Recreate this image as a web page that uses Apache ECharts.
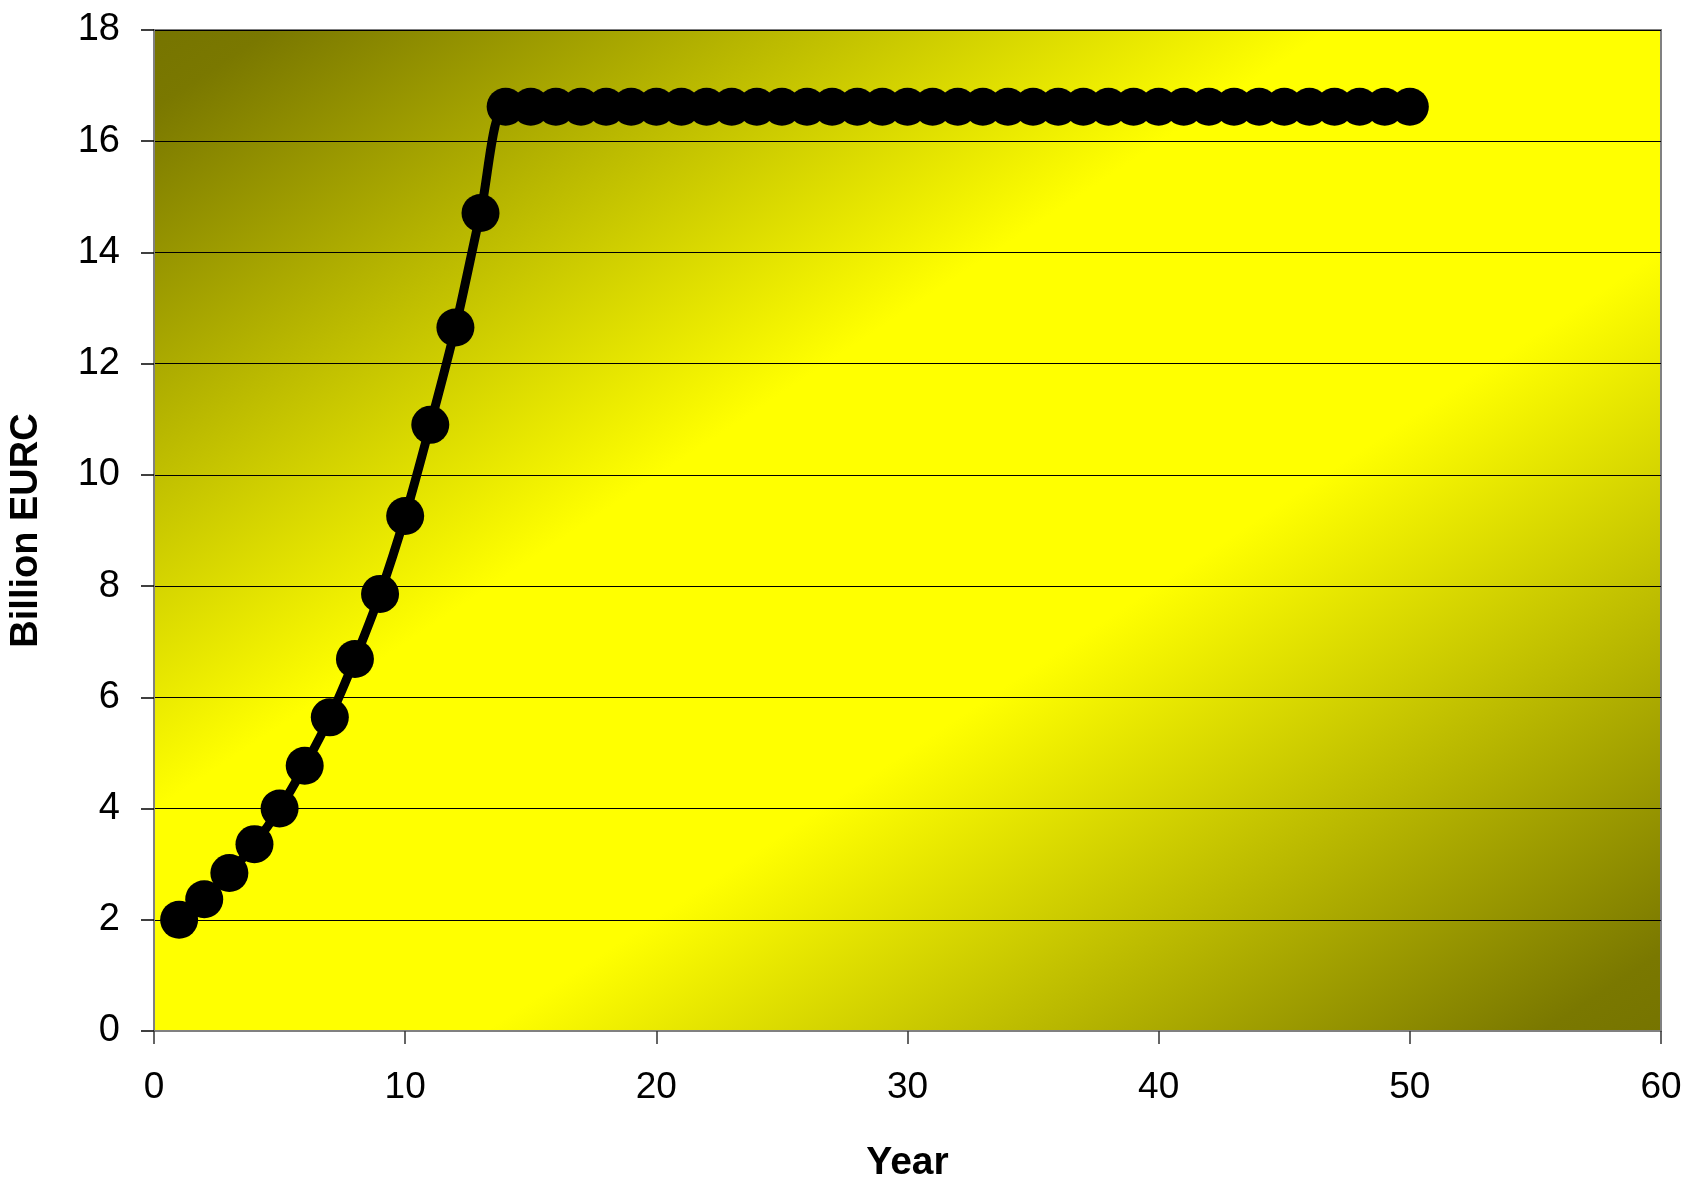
<!DOCTYPE html>
<html>
<head>
<meta charset="utf-8">
<script src="https://cdn.jsdelivr.net/npm/echarts@6/dist/echarts.min.js"></script>
<style>
html,body{margin:0;padding:0;background:#fff;}
#chart{width:1692px;height:1182px;}
</style>
</head>
<body>
<div id="chart"></div>
<script>
const years = [1,2,3,4,5,6,7,8,9,10,11,12,13,14,15,16,17,18,19,20,21,22,23,24,25,26,27,28,29,30,31,32,33,34,35,36,37,38,39,40,41,42,43,44,45,46,47,48,49,50];
const billionEURC = [2.0,2.37,2.84,3.36,4.0,4.77,5.64,6.69,7.86,9.26,10.9,12.65,14.71,
  16.62,16.62,16.62,16.62,16.62,16.62,16.62,16.62,16.62,16.62,16.62,16.62,16.62,16.62,16.62,16.62,16.62,16.62,16.62,16.62,16.62,16.62,16.62,16.62,16.62,16.62,16.62,16.62,16.62,16.62,16.62,16.62,16.62,16.62,16.62,16.62,16.62];
const xTicks = {min:0, max:60, interval:10};
const yTicks = {min:0, max:18, interval:2};
const xName = 'Year';
const yName = 'Billion EURC';

const chart = echarts.init(document.getElementById('chart'), null, {renderer:'canvas'});
const font = '"Liberation Sans", Arial, sans-serif';
const bg = new echarts.graphic.LinearGradient(0.194, -0.194, 0.806, 1.194, [
  {offset:0, color:'#767400'},
  {offset:0.04, color:'#7a7800'},
  {offset:0.39, color:'#ffff00'},
  {offset:0.61, color:'#ffff00'},
  {offset:0.96, color:'#7a7800'},
  {offset:1, color:'#767400'}
]);
chart.setOption({
  animation:false,
  grid:{left:154, right:31, top:30, bottom:151, containLabel:false, outerBoundsMode:'none',
        show:true, backgroundColor:bg, borderColor:'#808080', borderWidth:2},
  xAxis:{
    type:'value', min:xTicks.min, max:xTicks.max, interval:xTicks.interval,
    name:xName, nameLocation:'middle', nameGap:113,
    nameTextStyle:{fontFamily:font, fontSize:39, fontWeight:'bold', color:'#000'},
    axisLine:{show:true, onZero:false, lineStyle:{color:'#808080', width:2}},
    axisTick:{show:true, length:13, lineStyle:{color:'#333', width:1.5}},
    axisLabel:{margin:38, fontFamily:font, fontSize:37, color:'#000'},
    splitLine:{show:false}
  },
  yAxis:{
    type:'value', min:yTicks.min, max:yTicks.max, interval:yTicks.interval,
    name:yName, nameLocation:'middle', nameGap:108, nameRotate:90,
    nameTextStyle:{fontFamily:font, fontSize:38, fontWeight:'bold', color:'#000'},
    axisLine:{show:true, lineStyle:{color:'#808080', width:2}},
    axisTick:{show:true, length:13, lineStyle:{color:'#000', width:1.5}},
    axisLabel:{margin:34, fontFamily:font, fontSize:38, color:'#000'},
    splitLine:{show:true, lineStyle:{color:'#000', width:1.2}}
  },
  series:[{
    type:'line',
    data:years.map((y,i)=>[y, billionEURC[i]]),
    smooth:0.33,
    symbol:'circle', symbolSize:38,
    itemStyle:{color:'#000'},
    lineStyle:{color:'#000', width:9}
  }]
});
</script>
</body>
</html>
